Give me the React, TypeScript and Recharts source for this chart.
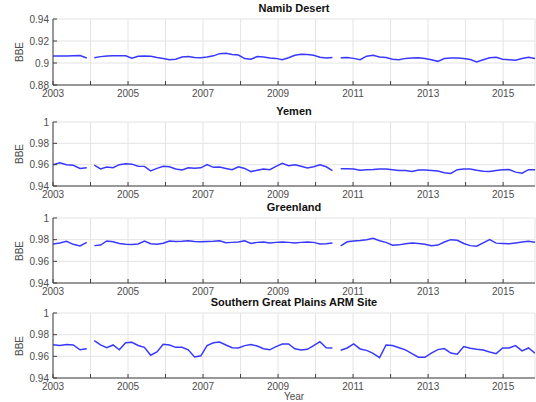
import React from "react";
import { LineChart, Line, XAxis, YAxis, CartesianGrid } from "recharts";

// sample times (decimal years), roughly bimonthly, with the two data gaps
const span = (a: number, b: number, n: number) => Array.from({ length: n }, (_, k) => a + ((b - a) * k) / (n - 1));
const months = [...span(2003, 2003.9, 6), 2004.0, ...span(2004.1, 2010.45, 39), 2010.56, ...span(2010.67, 2015.85, 31)];
const yearTicks = [2003, 2004, 2005, 2006, 2007, 2008, 2009, 2010, 2011, 2012, 2013, 2014, 2015];

const namib = [
  0.9064, 0.9064, 0.9064, 0.9066, 0.9068, 0.9045, null,
  0.9048, 0.9058, 0.9064, 0.9066, 0.9066, 0.9066, 0.9043, 0.9062, 0.9064, 0.9062, 0.905, 0.904, 0.903, 0.9035,
  0.9055, 0.906, 0.905, 0.9048, 0.9055, 0.9065, 0.9085, 0.9088, 0.9078, 0.9072, 0.904, 0.9035, 0.9058, 0.9055,
  0.9045, 0.9042, 0.903, 0.9048, 0.907, 0.908, 0.9078, 0.907, 0.9052, 0.9045, 0.905, null,
  0.9048, 0.905, 0.9042, 0.903, 0.9062, 0.907, 0.9055, 0.905, 0.9035, 0.903, 0.9042, 0.9045, 0.9048, 0.904,
  0.903, 0.9015, 0.904, 0.9045, 0.9045, 0.904, 0.9032, 0.901, 0.903, 0.9048, 0.9052, 0.9035, 0.903, 0.9025,
  0.904, 0.9052, 0.904,
];

const yemen = [
  0.96, 0.9618, 0.96, 0.9594, 0.9565, 0.957, null,
  0.9595, 0.956, 0.9578, 0.9572, 0.96, 0.9609, 0.9605, 0.9585, 0.9584, 0.9542, 0.9565, 0.9584, 0.958, 0.956,
  0.955, 0.957, 0.9566, 0.957, 0.96, 0.9575, 0.9578, 0.9565, 0.9553, 0.958, 0.9565, 0.9535, 0.9548, 0.956,
  0.9553, 0.9584, 0.9612, 0.959, 0.96, 0.9585, 0.957, 0.958, 0.9598, 0.958, 0.9545, null,
  0.9562, 0.9562, 0.956, 0.9548, 0.9552, 0.9555, 0.956, 0.956, 0.9553, 0.9546, 0.9545, 0.9535, 0.955, 0.955,
  0.9545, 0.954, 0.9525, 0.9518, 0.9553, 0.956, 0.956, 0.9548, 0.9538, 0.9535, 0.9545, 0.9553, 0.9555, 0.953,
  0.952, 0.9553, 0.9553,
];

const greenland = [
  0.9761, 0.977, 0.9785, 0.9757, 0.9742, 0.9775, null,
  0.9745, 0.975, 0.9788, 0.978, 0.9765, 0.9757, 0.9755, 0.976, 0.9788, 0.9762, 0.9757, 0.9767, 0.9788, 0.9782,
  0.9785, 0.979, 0.9783, 0.978, 0.9782, 0.9785, 0.979, 0.9772, 0.9775, 0.9779, 0.979, 0.9765, 0.9775, 0.9779,
  0.977, 0.9775, 0.9779, 0.9775, 0.977, 0.9775, 0.9779, 0.9775, 0.9761, 0.9762, 0.977, null,
  0.9742, 0.978, 0.9788, 0.9792, 0.98, 0.9812, 0.979, 0.9775, 0.9748, 0.9752, 0.9762, 0.977, 0.9765, 0.9758,
  0.9745, 0.975, 0.9778, 0.98, 0.9795, 0.9765, 0.9745, 0.974, 0.977, 0.98, 0.9768, 0.9765, 0.9762, 0.977,
  0.9779, 0.9785, 0.9775,
];

const sgp = [
  0.9708, 0.97, 0.971, 0.9705, 0.966, 0.967, null,
  0.9745, 0.9705, 0.968, 0.9705, 0.966, 0.9725, 0.9729, 0.97, 0.9683, 0.961, 0.964, 0.9712, 0.9705, 0.9683,
  0.9683, 0.966, 0.9595, 0.9605, 0.97, 0.9725, 0.9732, 0.9705, 0.968, 0.9678, 0.9699, 0.971, 0.9695, 0.967,
  0.966, 0.969, 0.9714, 0.9714, 0.967, 0.9659, 0.9665, 0.9699, 0.9736, 0.968, 0.9677, null,
  0.9656, 0.9677, 0.9714, 0.9668, 0.9655, 0.9628, 0.9588, 0.9705, 0.9699, 0.968, 0.966, 0.9625, 0.9592, 0.9591,
  0.963, 0.9662, 0.9672, 0.963, 0.962, 0.969, 0.9675, 0.9665, 0.9658, 0.964, 0.9625, 0.9677, 0.9677, 0.9699,
  0.965, 0.9677, 0.963,
];

const lowTicks = [0.88, 0.9, 0.92, 0.94];
const highTicks = [0.94, 0.96, 0.98, 1];

const W = 536;
const PLOT_LEFT = 53;
const PLOT_RIGHT = 535;
const FONT = '"Liberation Sans", Arial, Helvetica, sans-serif';
const AXIS = "#404040";
const TEXT = "#4d4d4d";
const BLUE = "#3838ff";

type PanelProps = {
  title: string;
  values: (number | null)[];
  domain: [number, number];
  ticks: number[];
  top: number;
  height: number;
};

function Panel({ title, values, domain, ticks, top, height }: PanelProps) {
  const data = months.map((t, i) => ({ t, v: values[i] }));
  const mTop = 10;
  const xH = 22;
  return (
    <>
      <div
        style={{
          position: "absolute", left: PLOT_LEFT, width: PLOT_RIGHT - PLOT_LEFT, top: top - 16,
          textAlign: "center", fontFamily: FONT, fontWeight: "bold", fontSize: 11, lineHeight: "11px", color: "#111",
        }}
      >
        {title}
      </div>
      <div
        style={{
          position: "absolute", left: 0, width: 40, top: top + height / 2 - 6, height: 12,
          textAlign: "center", fontFamily: FONT, fontSize: 10, lineHeight: "12px", color: TEXT,
          transform: "rotate(-90deg)",
        }}
      >
        BBE
      </div>
      <div style={{ position: "absolute", left: 0, top: top - mTop }}>
        <LineChart width={W} height={height + mTop + xH} data={data}
          margin={{ top: mTop, right: W - PLOT_RIGHT, bottom: 0, left: 0 }}>
          <CartesianGrid stroke="#e4e4e4" strokeWidth={1} />
          <XAxis dataKey="t" type="number" domain={[2003, 2015.85]} ticks={yearTicks} allowDataOverflow
            interval={0} height={xH} tickSize={0} tickMargin={0} tickLine={false}
            axisLine={{ stroke: AXIS }}
            tick={(p: any) => (
              <g>
                <line x1={p.x} y1={p.y} x2={p.x} y2={p.y - 4} stroke={AXIS} />
                {p.payload.value % 2 === 1 && (
                  <text x={p.x} y={p.y + 12} textAnchor="middle" fontSize={10} fontFamily={FONT} fill={TEXT}>
                    {p.payload.value}
                  </text>
                )}
              </g>
            )} />
          <XAxis xAxisId="top" orientation="top" dataKey="t" type="number" domain={[2003, 2015.85]}
            ticks={yearTicks} allowDataOverflow interval={0} height={0} tickSize={0} tickMargin={0}
            tickLine={false} axisLine={{ stroke: AXIS }}
            tick={(p: any) => <line x1={p.x} y1={p.y} x2={p.x} y2={p.y + 4} stroke={AXIS} />} />
          <YAxis domain={domain} ticks={ticks} interval={0} width={PLOT_LEFT} tickSize={0} tickMargin={0}
            tickLine={false} axisLine={{ stroke: AXIS }} allowDataOverflow
            tick={(p: any) => (
              <g>
                <line x1={p.x} y1={p.y} x2={p.x + 4} y2={p.y} stroke={AXIS} />
                <text x={p.x - 4} y={p.y + 3.6} textAnchor="end" fontSize={10} fontFamily={FONT} fill={TEXT}>
                  {String(p.payload.value)}
                </text>
              </g>
            )} />
          <YAxis yAxisId="r" orientation="right" domain={domain} ticks={ticks} interval={0} width={0}
            tickSize={0} tickMargin={0} tickLine={false} axisLine={{ stroke: AXIS }} allowDataOverflow
            tick={(p: any) => <line x1={p.x} y1={p.y} x2={p.x - 4} y2={p.y} stroke={AXIS} />} />
          <Line type="linear" dataKey="v" stroke={BLUE} strokeWidth={1.5} dot={false}
            isAnimationActive={false} connectNulls={false} />
        </LineChart>
      </div>
    </>
  );
}

export default function App() {
  return (
    <div style={{ position: "absolute", left: 0, top: 0, width: W, height: 402, background: "#fff" }}>
      <Panel title="Namib Desert" values={namib} domain={[0.88, 0.94]} ticks={lowTicks} top={19} height={66} />
      <Panel title="Yemen" values={yemen} domain={[0.94, 1]} ticks={highTicks} top={122} height={64} />
      <Panel title="Greenland" values={greenland} domain={[0.94, 1]} ticks={highTicks} top={218} height={65} />
      <Panel title="Southern Great Plains ARM Site" values={sgp} domain={[0.94, 1]} ticks={highTicks} top={313} height={65} />
      <div
        style={{
          position: "absolute", left: PLOT_LEFT, width: PLOT_RIGHT - PLOT_LEFT, top: 392,
          textAlign: "center", fontFamily: FONT, fontSize: 10, lineHeight: "10px", color: TEXT,
        }}
      >
        Year
      </div>
    </div>
  );
}
